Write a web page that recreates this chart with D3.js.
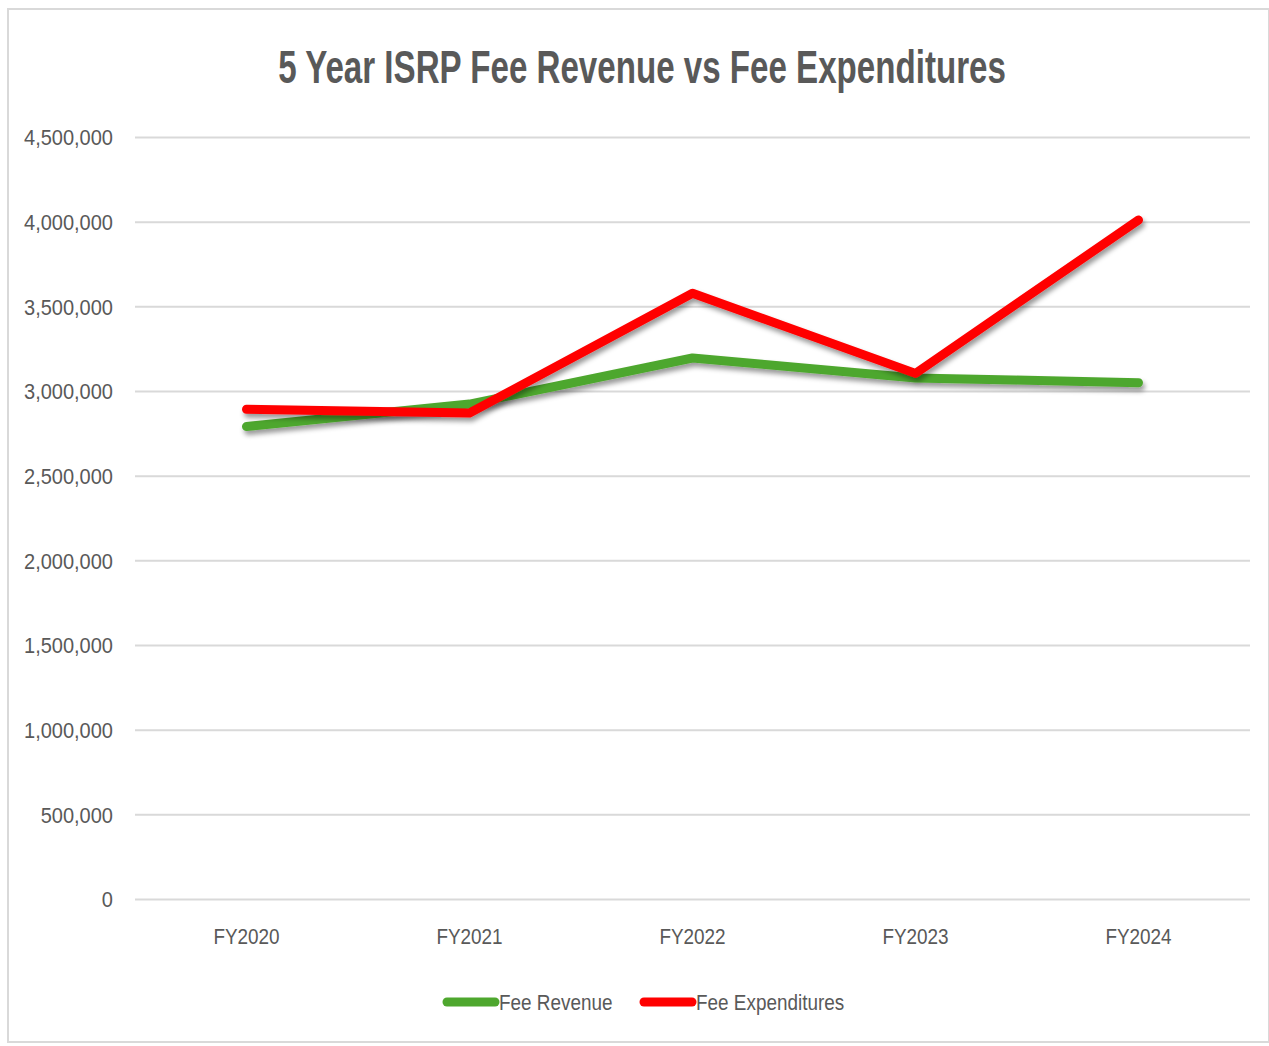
<!DOCTYPE html>
<html>
<head>
<meta charset="utf-8">
<script src="https://cdn.jsdelivr.net/npm/d3@7"></script>
<style>
  html, body { margin: 0; padding: 0; background: #fff; }
  svg { display: block; }
  text { font-family: "Liberation Sans", Arial, sans-serif; }
</style>
</head>
<body>
<svg id="chart"></svg>
<script>
const categories = ['FY2020', 'FY2021', 'FY2022', 'FY2023', 'FY2024'];
const feeRevenue = [2790000, 2923000, 3195000, 3077000, 3049000];
const feeExpenditures = [2892000, 2870000, 3577000, 3104000, 4010000];
const yTicks = [0, 500000, 1000000, 1500000, 2000000, 2500000, 3000000, 3500000, 4000000, 4500000];
const seriesNames = ['Fee Revenue', 'Fee Expenditures'];
const seriesColors = ['#4ea72e', '#ff0000'];

const width = 1269, height = 1046;
const margin = { top: 137, right: 19, bottom: 147, left: 135 };
const innerWidth = width - margin.left - margin.right;
const innerHeight = height - margin.top - margin.bottom;
const textColor = '#595959';

// the reference uses a narrow face, so squeeze the regular one around its anchor
function condense(selection, factor) {
  selection.each(function() {
    const t = d3.select(this);
    const x = +t.attr('x') || 0;
    const y = +t.attr('y') || 0;
    t.attr('x', 0).attr('y', 0)
      .attr('transform', `translate(${x},${y}) scale(${factor},1)`);
  });
}

const svg = d3.select('#chart')
  .attr('width', width)
  .attr('height', height);

// drop shadow under the lines
const defs = svg.append('defs');
const shadow = defs.append('filter')
  .attr('id', 'shadow')
  .attr('x', '-10%').attr('y', '-20%')
  .attr('width', '130%').attr('height', '160%');
shadow.append('feDropShadow')
  .attr('dx', 2).attr('dy', 4)
  .attr('stdDeviation', 2.5)
  .attr('flood-color', '#000')
  .attr('flood-opacity', 0.4);

// chart frame
svg.append('rect')
  .attr('x', 8).attr('y', 9)
  .attr('width', width - 8).attr('height', 1033)
  .attr('fill', '#fff')
  .attr('stroke', '#d9d9d9')
  .attr('stroke-width', 2);

// title
svg.append('text')
  .attr('x', 642)
  .attr('y', 83)
  .attr('text-anchor', 'middle')
  .attr('fill', textColor)
  .attr('font-weight', 'bold')
  .attr('font-size', 46)
  .text('5 Year ISRP Fee Revenue vs Fee Expenditures')
  .call(condense, 0.72);

const xScale = d3.scaleBand()
  .domain(categories)
  .range([0, innerWidth]);

const yScale = d3.scaleLinear()
  .domain([0, 4500000])
  .range([innerHeight, 0]);

const mainGroup = svg.append('g')
  .attr('transform', `translate(${margin.left}, ${margin.top})`);

// gridlines + y labels
const yAxis = mainGroup.append('g')
  .attr('class', 'y axis')
  .call(d3.axisLeft(yScale)
    .tickValues(yTicks)
    .tickSize(-innerWidth)
    .tickPadding(22)
    .tickFormat(d3.format(',')));
yAxis.select('.domain').remove();
yAxis.selectAll('.tick line')
  .attr('stroke', '#d9d9d9')
  .attr('stroke-width', 2);
yAxis.selectAll('.tick text')
  .attr('fill', textColor)
  .attr('font-size', 22)
  .attr('dy', '0.35em')
  .call(condense, 0.91);

// x labels
const xAxis = mainGroup.append('g')
  .attr('class', 'x axis')
  .attr('transform', `translate(0, ${innerHeight})`)
  .call(d3.axisBottom(xScale).tickSize(0).tickPadding(29));
xAxis.select('.domain').remove();
xAxis.selectAll('.tick text')
  .attr('fill', textColor)
  .attr('font-size', 22)
  .call(condense, 0.86);

const line = d3.line()
  .x((d, i) => xScale(categories[i]) + xScale.bandwidth() / 2)
  .y(d => yScale(d));

[feeRevenue, feeExpenditures].forEach((values, k) => {
  mainGroup.append('path')
    .datum(values)
    .attr('class', 'series')
    .attr('d', line)
    .attr('fill', 'none')
    .attr('stroke', seriesColors[k])
    .attr('stroke-width', 9)
    .attr('stroke-linecap', 'round')
    .attr('stroke-linejoin', 'round')
    .attr('filter', 'url(#shadow)');
});

// legend
const legend = svg.append('g')
  .attr('transform', 'translate(0, 1002)');
const legendX = [447, 644];
seriesNames.forEach((name, k) => {
  const item = legend.append('g')
    .attr('transform', `translate(${legendX[k]}, 0)`);
  item.append('line')
    .attr('x1', 0).attr('x2', 48)
    .attr('stroke', seriesColors[k])
    .attr('stroke-width', 9)
    .attr('stroke-linecap', 'round');
  item.append('text')
    .attr('x', 52)
    .attr('dy', '0.35em')
    .attr('fill', textColor)
    .attr('font-size', 22)
    .text(name)
    .call(condense, 0.86);
});
</script>
</body>
</html>
